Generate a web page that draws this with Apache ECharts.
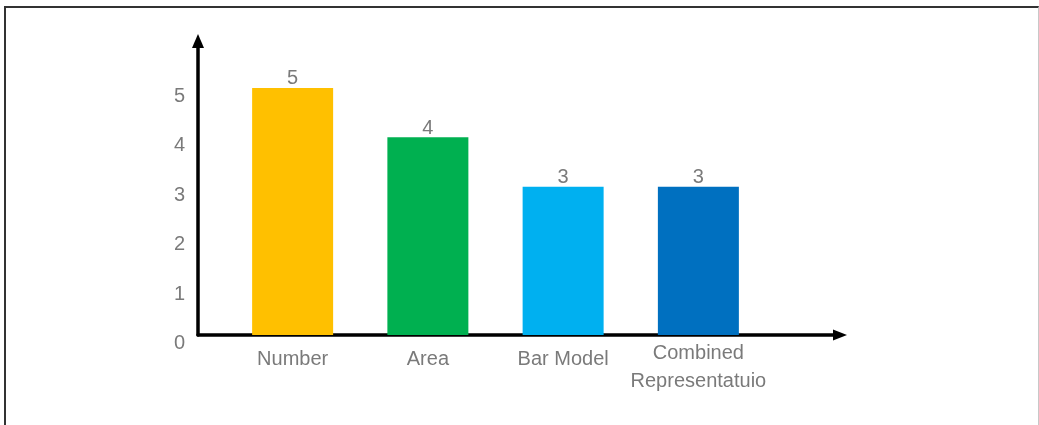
<!DOCTYPE html>
<html>
<head>
<meta charset="utf-8">
<script src="https://cdn.jsdelivr.net/npm/echarts@6/dist/echarts.min.js"></script>
<style>
  html, body { margin: 0; padding: 0; background: #fff; }
  #frame { position: absolute; left: 4px; top: 6px; width: 1032px; height: 430px;
           border-left: 2px solid #333; border-top: 2px solid #333; border-right: 1px solid #c8c8c8; }
  #chart { position: absolute; left: 0; top: 0; width: 1039px; height: 425px; }
</style>
</head>
<body>
<div id="frame"></div>
<div id="chart"></div>
<script>
const categories = ['Number', 'Area', 'Bar Model', 'Combined\nRepresentatuio'];
const values = [5, 4, 3, 3];
const barColors = ['#FFC000', '#00B050', '#00B0F0', '#0070C0'];
const yMin = 0;
const yMax = 5.95;
const yTickMax = 5;

const textColor = '#7a7a7a';
const fontFamily = '"Liberation Sans", Arial, sans-serif';

const chart = echarts.init(document.getElementById('chart'), null, { renderer: 'canvas' });

const option = {
  backgroundColor: 'transparent',
  animation: false,
  textStyle: { fontFamily: fontFamily },
  grid: [
    { left: 198, right: 199, top: 41, bottom: 90 },
    { left: 225, right: 273, top: 41, bottom: 90 }
  ],
  xAxis: [
    {
      gridIndex: 0, type: 'value', min: 0, max: 1,
      axisLine: { show: true, symbol: ['none', 'triangle'], symbolSize: [11, 14],
                  lineStyle: { color: '#000', width: 3.5 } },
      axisTick: { show: false }, axisLabel: { show: false }, splitLine: { show: false }
    },
    {
      gridIndex: 1, type: 'category',
      data: categories.map(c => c.indexOf('\n') >= 0
        ? { value: c, textStyle: { lineHeight: 28, padding: [-10, 0, 0, 0] } }
        : c),
      axisLine: { show: false }, axisTick: { show: false },
      axisLabel: { color: textColor, fontSize: 20, margin: 14, interval: 0, fontFamily: fontFamily }
    }
  ],
  yAxis: [
    {
      gridIndex: 0, type: 'value', min: yMin, max: yMax, interval: 1,
      axisLine: { show: true, symbol: ['none', 'triangle'], symbolSize: [12, 14],
                  lineStyle: { color: '#000', width: 3.5 } },
      axisTick: { show: false }, splitLine: { show: false },
      axisLabel: {
        color: textColor, fontSize: 20, margin: 13, verticalAlign: 'top', lineHeight: 17,
        fontFamily: fontFamily,
        formatter: v => (v <= yTickMax ? String(v) : '')
      }
    },
    {
      gridIndex: 1, type: 'value', min: yMin, max: yMax, show: false
    }
  ],
  series: [
    {
      type: 'bar', xAxisIndex: 1, yAxisIndex: 1, barWidth: 81,
      data: values.map((v, i) => ({ value: v, itemStyle: { color: barColors[i] } })),
      label: { show: true, position: 'top', distance: -1, color: textColor, fontSize: 20, fontFamily: fontFamily }
    }
  ]
};
chart.setOption(option);
</script>
</body>
</html>
